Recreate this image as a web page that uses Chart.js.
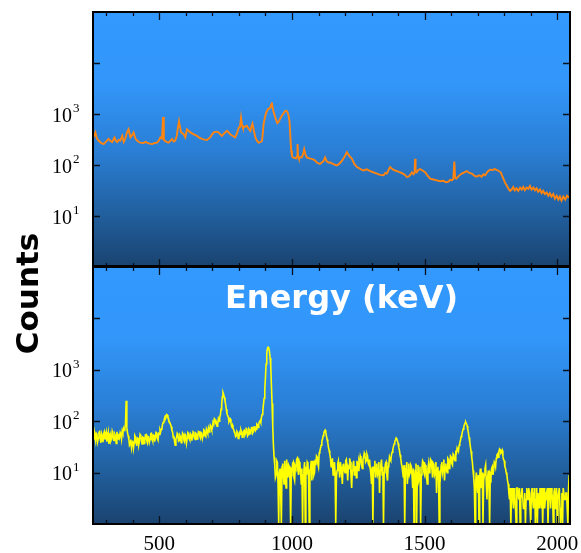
<!DOCTYPE html>
<html><head><meta charset="utf-8">
<script src="https://cdn.jsdelivr.net/npm/chart.js@4.4.1/dist/chart.umd.min.js"></script>
<style>
html,body{margin:0;padding:0;background:#fff;}
#wrap{position:relative;width:581px;height:553px;}
canvas{position:absolute;left:0;top:0;}
</style>
</head><body>
<div id="wrap">
<canvas id="cTop" width="581" height="553"></canvas>
<canvas id="cBot" width="581" height="553"></canvas>
</div>
<script>
// ---------- data ----------
const orangeKeV = [252,259,265,271,280,290,300,309,316,322,331,336,341,347,353,360,366,372,378,384,391,397,403,410,416,422,428,440,448,454,463,473,482,491,498,504,510,514,517,519,527,535,542,548,554,560,566,569,574,578,582,587,592,598,604,610,617,630,642,652,661,670,680,686,692,699,705,714,723,730,736,745,755,761,767,777,786,793,799,804,808,812,815,822,830,836,843,847,851,856,862,868,874,880,887,890,893,898,903,910,918,921,924,927,930,937,945,951,958,966,975,979,983,987,991,994,997,1000,1003,1010,1016,1019,1021,1023,1026,1031,1037,1042,1046,1051,1056,1065,1075,1085,1094,1100,1106,1112,1119,1125,1131,1138,1144,1156,1169,1178,1188,1198,1207,1216,1226,1235,1245,1257,1269,1282,1295,1307,1320,1332,1345,1352,1358,1364,1370,1380,1389,1398,1408,1418,1427,1433,1439,1446,1452,1458,1462,1464,1466,1470,1476,1483,1492,1502,1511,1521,1533,1546,1558,1571,1580,1590,1596,1602,1608,1612,1615,1619,1630,1640,1650,1659,1668,1678,1687,1696,1705,1715,1722,1728,1738,1747,1756,1765,1776,1787,1792,1797,1803,1809,1815,1822,1828,1834,1840,1847,1853,1860,1866,1872,1878,1885,1891,1897,1903,1910,1916,1922,1928,1935,1941,1947,1953,1960,1966,1972,1978,1985,1991,1998,2004,2010,2016,2023,2030,2037,2044];
const orangeCounts = [347,436,330,302,270,257,290,324,295,282,347,300,282,310,302,372,282,330,436,501,347,380,436,330,302,285,275,270,285,275,262,257,270,275,300,347,330,871,330,302,285,275,300,324,290,302,380,501,724,560,436,420,398,347,501,470,436,400,372,340,324,315,309,330,347,400,436,450,436,400,372,420,468,440,398,370,347,420,537,560,851,600,537,560,589,520,468,560,646,480,347,300,275,280,295,420,631,850,1072,1250,1318,1500,1698,1350,1148,850,661,720,851,1000,1148,1160,1096,950,692,350,191,150,141,138,135,150,257,150,135,140,141,165,204,160,141,135,132,125,112,108,105,112,120,141,118,112,112,104,98,105,120,145,178,150,132,105,91,84,78,82,76,72,68,64,63,70,68,80,91,82,78,75,72,68,63,58,59,64,72,66,70,132,75,72,80,83,78,72,62,54,52,50,48,49,46,47,51,50,53,117,56,54,62,68,72,76,70,68,62,59,63,59,66,63,75,81,80,83,78,72,62,54,45,40,35,31,33,37,32,35,31,36,33,37,32,36,34,39,33,36,32,35,30,33,28,31,27,29,25,28,24,27,22,25,21,24,20,24,21,25,23];

// yellow spectrum: counts per 2.5 keV bin, first bin at 250 keV (40 bins per row = 100 keV)
const yellowBinStartKeV = 250;
const yellowBinWidthKeV = 2.5;
const yellowCounts = [
 52,44,60,49,41,58,55,40,47,61,63,45,38,56,50,39,57,62,44,53,61,40,48,59,36,47,54,42,46,64,58,43,42,55,51,37,62,50,45,57,
 49,60,56,45,64,58,72,66,70,90,250,75,60,52,45,34,36,44,31,39,42,30,38,53,50,41,33,47,46,35,40,55,52,43,36,49,48,37,42,54,
 55,42,38,50,51,39,44,57,58,45,41,54,53,40,47,61,60,46,43,57,55,68,62,70,75,88,95,102,115,126,122,135,132,118,112,96,92,86,78,66,
 62,48,52,40,34,45,48,58,55,41,42,53,50,38,45,59,56,43,40,55,52,38,47,60,58,46,43,57,54,42,49,62,60,47,44,58,56,45,51,63,
 62,51,47,60,58,46,53,68,66,52,50,70,64,58,72,62,68,84,80,70,74,96,90,112,108,92,95,80,88,110,100,120,130,170,210,300,360,330,290,250,
 210,170,140,128,120,98,105,110,92,80,85,72,70,62,58,50,52,63,60,46,48,59,55,68,62,49,50,64,66,54,58,72,70,52,55,71,68,57,62,75,
 75,60,64,78,80,66,70,88,85,76,90,98,102,94,120,135,160,210,280,420,700,1300,2100,2600,2750,2650,2300,1700,1200,500,220,80,35,20,14,8,9,17,16,6,
 1,10,12,4,1,13,15,9,6,17,11,5,18,12,8,14,13,7,1,11,10,15,16,8,7,13,12,18,19,11,9,16,14,10,6,12,1,9,11,16,
 1,13,9,16,15,8,1,11,12,17,7,14,17,9,10,18,14,21,20,15,13,24,26,30,34,40,45,52,58,64,67,60,52,44,38,31,27,23,19,13,
 14,19,9,12,16,10,1,8,11,15,17,12,8,16,13,9,6,14,15,11,10,17,18,12,7,13,12,19,16,9,5,11,14,17,9,13,13,8,17,14,
 11,17,15,21,19,14,12,18,20,24,22,16,17,23,21,15,14,18,12,9,6,13,1,10,13,17,8,12,15,9,10,16,4,11,14,18,9,13,1,10,
 12,15,16,9,7,13,14,20,18,17,22,25,28,32,36,40,43,47,45,41,37,31,27,22,19,15,13,10,8,14,1,9,12,16,6,11,15,9,10,14,
 13,9,5,12,1,8,11,15,1,10,14,7,8,13,1,9,12,17,16,10,9,14,13,8,6,12,15,10,11,18,17,12,8,15,14,9,10,16,4,12,
 13,8,1,11,9,14,16,10,12,18,7,13,15,11,10,19,18,12,13,21,20,15,14,23,22,18,17,25,24,30,28,26,34,38,42,50,55,62,70,77,
 85,92,96,90,82,70,60,48,40,32,26,20,16,11,8,5,1,7,10,6,4,9,1,8,12,5,6,10,1,7,9,12,14,6,3,8,11,5,1,9,
 8,12,13,9,11,16,15,13,19,22,23,20,26,29,28,24,25,27,21,18,17,13,12,10,9,7,6,4,3,5,1,4,5,3,2,5,4,2,1,5,
 5,4,3,5,1,3,4,5,5,2,2,4,1,3,5,4,3,5,4,2,1,4,5,3,2,4,5,1,3,5,1,4,4,2,5,3,2,5,1,4,
 5,2,3,4,4,5,1,3,5,4,2,5,4,3,1,4,5,2,3,5,1,3,4,5,5,1,2,4,1,5,5,3,3,4,4,2,1,5,9,6
];

const xRange = [250, 2048];
const yRange = [1, 100000];
const xMinorTicks = [300,400,500,600,700,800,900,1000,1100,1200,1300,1400,1500,1600,1700,1800,1900,2000];
const xMajorTicks = [500,1000,1500,2000];
const yTicks = [10,100,1000,10000];
const yLabelExponents = [1,2,3];
const yAxisTitle = 'Counts';
const xAxisTitle = 'Energy (keV)';

// ---------- helpers ----------
const orangePoints = orangeKeV.map((e,i)=>({x:e, y:orangeCounts[i]}));
const yellowPoints = yellowCounts.map((c,i)=>({x:yellowBinStartKeV + i*yellowBinWidthKeV, y:c}));

function panelPlugin(isBottom){
  return {
    id: 'panelDeco' + (isBottom ? 'B' : 'T'),
    beforeDraw(chart){
      const {ctx, chartArea:a} = chart;
      const g = ctx.createLinearGradient(0, a.top, 0, a.bottom);
      g.addColorStop(0, '#3399ff');
      g.addColorStop(0.28, '#3296f9');
      g.addColorStop(0.55, '#2a7ed4');
      g.addColorStop(0.8, '#215e9c');
      g.addColorStop(1, '#1a436f');
      ctx.save();
      ctx.fillStyle = g;
      ctx.fillRect(a.left, a.top, a.right-a.left, a.bottom-a.top);
      ctx.restore();
    },
    afterDatasetsDraw(chart){
      const {ctx, chartArea:a, scales:{x, y}} = chart;
      ctx.save();
      ctx.strokeStyle = '#08121e';
      ctx.lineWidth = 1.3;
      ctx.beginPath();
      xMinorTicks.forEach(v=>{
        const px = Math.round(x.getPixelForValue(v)) + 0.5;
        const len = xMajorTicks.includes(v) ? 8 : 4;
        ctx.moveTo(px, a.top); ctx.lineTo(px, a.top + len);
        ctx.moveTo(px, a.bottom); ctx.lineTo(px, a.bottom - len);
      });
      yTicks.forEach(v=>{
        const py = Math.round(y.getPixelForValue(v)) + 0.5;
        ctx.moveTo(a.left, py); ctx.lineTo(a.left + 7, py);
        ctx.moveTo(a.right, py); ctx.lineTo(a.right - 7, py);
      });
      ctx.stroke();
      ctx.strokeStyle = '#000';
      ctx.lineWidth = 2;
      ctx.strokeRect(a.left, a.top, a.right-a.left, a.bottom-a.top);
      if(!isBottom){
        ctx.lineWidth = 4;
        ctx.beginPath();
        ctx.moveTo(a.left-1, a.bottom); ctx.lineTo(a.right+1, a.bottom);
        ctx.stroke();
      }
      ctx.restore();
    },
    afterDraw(chart){
      const {ctx, chartArea:a, scales:{x, y}} = chart;
      ctx.save();
      ctx.fillStyle = '#000';
      // y tick labels 10^n
      yLabelExponents.forEach(n=>{
        const py = y.getPixelForValue(Math.pow(10, n));
        ctx.font = '20px "Liberation Serif"';
        ctx.textAlign = 'right';
        ctx.textBaseline = 'alphabetic';
        ctx.fillText('10', 72, py + 7.5);
        ctx.font = '13px "Liberation Serif"';
        ctx.textAlign = 'left';
        ctx.fillText(String(n), 73, py - 2);
      });
      if(isBottom){
        ctx.font = '21px "Liberation Serif"';
        ctx.textAlign = 'center';
        ctx.textBaseline = 'alphabetic';
        xMajorTicks.forEach(v=>{
          ctx.fillText(String(v), x.getPixelForValue(v), 550);
        });
        // axis titles
        ctx.font = 'bold 31px "DejaVu Sans"';
        ctx.save();
        ctx.translate(37.5, 293.5);
        ctx.rotate(-Math.PI/2);
        ctx.textAlign = 'center';
        ctx.fillText(yAxisTitle, 0, 0);
        ctx.restore();
        ctx.font = 'bold 32px "DejaVu Sans"';
        ctx.fillStyle = '#fff';
        ctx.textAlign = 'left';
        ctx.fillText(xAxisTitle, 225, 308);
      }
      ctx.restore();
    }
  };
}

function makeChart(id, points, color, width, padding, isBottom){
  return new Chart(document.getElementById(id), {
    type: 'line',
    data: { datasets: [{ data: points, borderColor: color, borderWidth: width, pointRadius: 0, tension: 0, fill: false }] },
    options: {
      responsive: false, animation: false, events: [],
      layout: { padding: padding },
      plugins: { legend: {display:false}, tooltip: {enabled:false} },
      scales: {
        x: { type: 'linear', min: xRange[0], max: xRange[1], display: false },
        y: { type: 'logarithmic', min: yRange[0], max: yRange[1], display: false }
      }
    },
    plugins: [panelPlugin(isBottom)]
  });
}

makeChart('cTop', orangePoints, '#ff8410', 1.9, {top:12, left:93, right:11, bottom:286}, false);
makeChart('cBot', yellowPoints, '#ffff00', 1.6, {top:267, left:93, right:11, bottom:29}, true);
</script>
</body></html>
